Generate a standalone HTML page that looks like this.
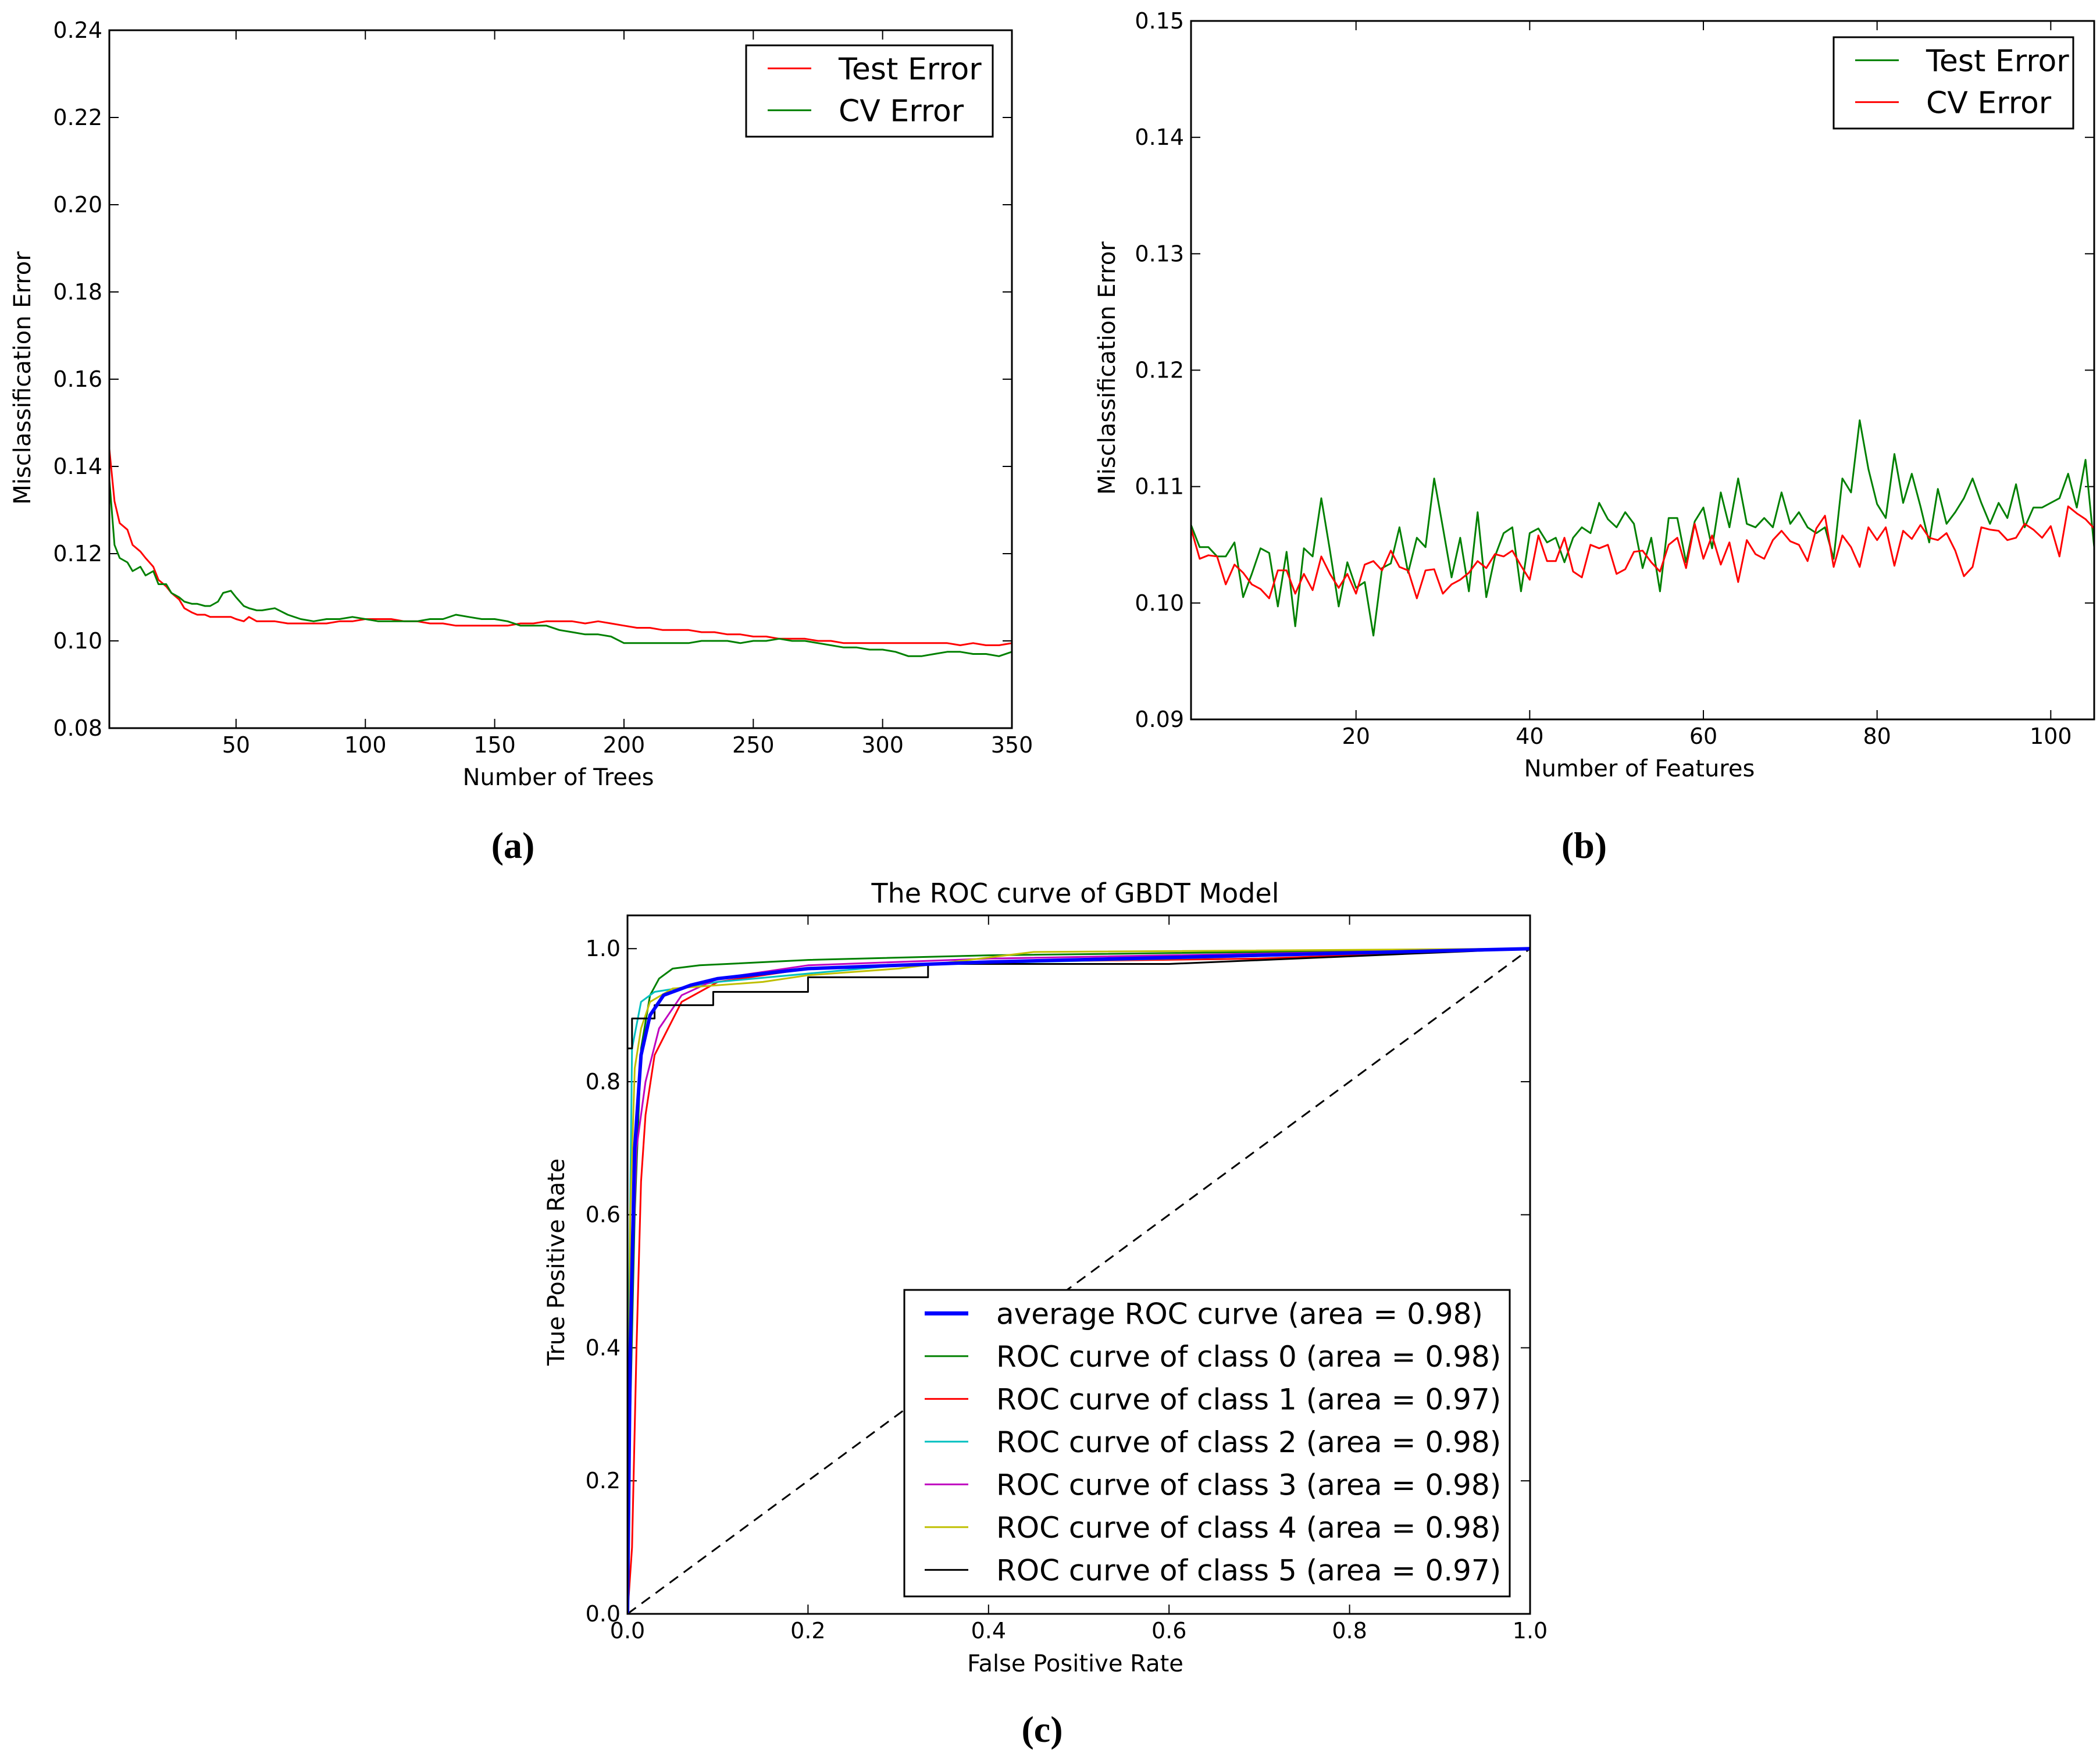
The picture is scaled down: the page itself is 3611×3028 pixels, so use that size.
<!DOCTYPE html>
<html><head><meta charset="utf-8"><style>
html,body{margin:0;padding:0;background:#fff}
svg{display:block}
text{font-family:"DejaVu Sans","Liberation Sans",sans-serif;fill:#000}
.lab{font-family:"Liberation Serif",serif;font-weight:bold}
</style></head><body>
<svg id="fig" width="3611" height="3028" viewBox="0 0 3611 3028" xmlns="http://www.w3.org/2000/svg"></svg>
<script>
// ---------- Chart (a) data ----------
const aTrees = [1,3,5,8,10,13,15,18,20,23,25,28,30,33,35,38,40,43,45,48,50,53,55,58,60,65,70,75,80,85,90,95,100,105,110,115,120,125,130,135,140,145,150,155,160,165,170,175,180,185,190,195,200,205,210,215,220,225,230,235,240,245,250,255,260,265,270,275,280,285,290,295,300,305,310,315,320,325,330,335,340,345,350];
const aTest = [0.144,0.132,0.127,0.1255,0.122,0.1205,0.119,0.117,0.114,0.1125,0.111,0.1095,0.1075,0.1065,0.106,0.106,0.1055,0.1055,0.1055,0.1055,0.105,0.1045,0.1055,0.1045,0.1045,0.1045,0.104,0.104,0.104,0.104,0.1045,0.1045,0.105,0.105,0.105,0.1045,0.1045,0.104,0.104,0.1035,0.1035,0.1035,0.1035,0.1035,0.104,0.104,0.1045,0.1045,0.1045,0.104,0.1045,0.104,0.1035,0.103,0.103,0.1025,0.1025,0.1025,0.102,0.102,0.1015,0.1015,0.101,0.101,0.1005,0.1005,0.1005,0.1,0.1,0.0995,0.0995,0.0995,0.0995,0.0995,0.0995,0.0995,0.0995,0.0995,0.099,0.0995,0.099,0.099,0.0995];
const aCV = [0.137,0.122,0.119,0.118,0.116,0.117,0.115,0.116,0.113,0.113,0.111,0.11,0.109,0.1085,0.1085,0.108,0.108,0.109,0.111,0.1115,0.11,0.108,0.1075,0.107,0.107,0.1075,0.106,0.105,0.1045,0.105,0.105,0.1055,0.105,0.1045,0.1045,0.1045,0.1045,0.105,0.105,0.106,0.1055,0.105,0.105,0.1045,0.1035,0.1035,0.1035,0.1025,0.102,0.1015,0.1015,0.101,0.0995,0.0995,0.0995,0.0995,0.0995,0.0995,0.1,0.1,0.1,0.0995,0.1,0.1,0.1005,0.1,0.1,0.0995,0.099,0.0985,0.0985,0.098,0.098,0.0975,0.0965,0.0965,0.097,0.0975,0.0975,0.097,0.097,0.0965,0.0975];
const aYTicks = [0.08,0.10,0.12,0.14,0.16,0.18,0.20,0.22,0.24];
const aXTicks = [50,100,150,200,250,300,350];

// ---------- Chart (b) data ----------
const bTest = [0.1067,0.1048,0.1048,0.1040,0.1040,0.1052,0.1005,0.1025,0.1047,0.1043,0.0997,0.1044,0.0980,0.1047,0.1040,0.1090,0.1045,0.0997,0.1035,0.1013,0.1018,0.0972,0.1030,0.1034,0.1065,0.1026,0.1056,0.1048,0.1107,0.1065,0.1022,0.1056,0.1010,0.1078,0.1005,0.1040,0.1060,0.1065,0.1010,0.1060,0.1064,0.1052,0.1056,0.1035,0.1056,0.1065,0.1060,0.1086,0.1072,0.1065,0.1078,0.1068,0.1030,0.1056,0.1010,0.1073,0.1073,0.1035,0.1070,0.1082,0.1047,0.1095,0.1065,0.1107,0.1068,0.1065,0.1073,0.1065,0.1095,0.1068,0.1078,0.1065,0.1060,0.1065,0.1038,0.1107,0.1095,0.1157,0.1115,0.1085,0.1073,0.1128,0.1086,0.1111,0.1083,0.1052,0.1098,0.1068,0.1078,0.1090,0.1107,0.1086,0.1068,0.1086,0.1073,0.1102,0.1065,0.1082,0.1082,0.1086,0.1090,0.1111,0.1082,0.1123,0.1048];
const bCV = [0.1064,0.1038,0.1041,0.1040,0.1016,0.1033,0.1026,0.1016,0.1012,0.1004,0.1028,0.1028,0.1008,0.1025,0.1011,0.1040,0.1025,0.1013,0.1025,0.1008,0.1033,0.1036,0.1028,0.1045,0.1031,0.1028,0.1004,0.1028,0.1029,0.1008,0.1016,0.1020,0.1026,0.1036,0.1030,0.1042,0.1040,0.1045,0.1032,0.1020,0.1058,0.1036,0.1036,0.1056,0.1027,0.1022,0.1050,0.1047,0.1050,0.1025,0.1029,0.1044,0.1045,0.1035,0.1027,0.1050,0.1056,0.1030,0.1068,0.1038,0.1058,0.1033,0.1052,0.1018,0.1054,0.1042,0.1038,0.1054,0.1062,0.1053,0.1050,0.1036,0.1064,0.1075,0.1031,0.1058,0.1048,0.1031,0.1065,0.1054,0.1065,0.1032,0.1062,0.1055,0.1067,0.1056,0.1054,0.1060,0.1045,0.1023,0.1031,0.1065,0.1063,0.1062,0.1054,0.1056,0.1068,0.1063,0.1056,0.1066,0.1040,0.1083,0.1077,0.1072,0.1064];
const bYTicks = [0.09,0.10,0.11,0.12,0.13,0.14,0.15];
const bXTicks = [20,40,60,80,100];

// ---------- Chart (c) data ----------
const cAvgX = [0,0.003,0.008,0.015,0.025,0.04,0.07,0.1,0.2,0.4,1];
const cAvgY = [0,0.4,0.7,0.84,0.9,0.93,0.945,0.955,0.97,0.98,1];
const c0X = [0,0.003,0.008,0.015,0.025,0.035,0.05,0.08,0.2,0.4,1];
const c0Y = [0,0.3,0.6,0.85,0.93,0.955,0.97,0.975,0.983,0.99,1];
const c1X = [0,0.005,0.01,0.015,0.02,0.03,0.045,0.06,0.1,0.2,0.4,0.7,1];
const c1Y = [0,0.1,0.4,0.65,0.75,0.84,0.88,0.92,0.95,0.97,0.98,0.985,1];
const c2X = [0,0.002,0.005,0.015,0.03,0.1,0.3,0.6,1];
const c2Y = [0,0.5,0.85,0.92,0.935,0.95,0.975,0.985,1];
const c3X = [0,0.005,0.01,0.02,0.035,0.06,0.1,0.2,0.4,1];
const c3Y = [0,0.5,0.7,0.8,0.88,0.93,0.955,0.975,0.985,1];
const c4X = [0,0.003,0.008,0.015,0.025,0.05,0.15,0.2,0.3,0.45,1];
const c4Y = [0,0.6,0.82,0.88,0.92,0.94,0.95,0.96,0.97,0.995,1];
const c5X = [0,0,0.005,0.005,0.03,0.03,0.095,0.095,0.2,0.2,0.333,0.333,0.6,1];
const c5Y = [0,0.85,0.85,0.895,0.895,0.915,0.915,0.935,0.935,0.957,0.957,0.977,0.977,1];
const cTicks = [0.0,0.2,0.4,0.6,0.8,1.0];

const NS = "http://www.w3.org/2000/svg";
const fig = document.getElementById('fig');
function mk(tag, attrs, parent, txt){
  const e = document.createElementNS(NS, tag);
  for (const k in attrs) e.setAttribute(k, attrs[k]);
  if (txt !== undefined) e.textContent = txt;
  (parent||fig).appendChild(e);
  return e;
}
function lin(d0,d1,r0,r1){ return v => r0 + (v-d0)/(d1-d0)*(r1-r0); }

function axes(name, L,R,T,B, xs, ys, xt, yt, xfmt, yfmt){
  const g = mk('g',{});
  
  
  const tl = 16;
  xt.forEach(v=>{
    const x = xs(v);
    mk('line',{x1:x,y1:B,x2:x,y2:B-tl,stroke:'#000','stroke-width':2},g);
    mk('line',{x1:x,y1:T,x2:x,y2:T+tl,stroke:'#000','stroke-width':2},g);
    const t = mk('text',{x:x,y:B+42,'font-size':38,'text-anchor':'middle'},g,xfmt(v));
    
    
  });
  yt.forEach(v=>{
    const y = ys(v);
    mk('line',{x1:L,y1:y,x2:L+tl,y2:y,stroke:'#000','stroke-width':2},g);
    mk('line',{x1:R,y1:y,x2:R-tl,y2:y,stroke:'#000','stroke-width':2},g);
    const t = mk('text',{x:L-12,y:y+13,'font-size':38,'text-anchor':'end'},g,yfmt(v));
    
    
  });
  return g;
}
function frame(name,L,R,T,B){
  const r = mk('rect',{x:L,y:T,width:R-L,height:B-T,fill:'none',stroke:'#000','stroke-width':3});
  
  
}
function series(name, xsArr, ysArr, xs, ys, color, w, clip){
  const pts = xsArr.map((v,i)=>xs(v).toFixed(1)+','+ys(ysArr[i]).toFixed(1)).join(' ');
  const p = mk('polyline',{points:pts,fill:'none',stroke:color,'stroke-width':w,'stroke-linejoin':'round','clip-path':clip});
  
  
}
function clipRect(id,L,R,T,B){
  const d = mk('defs',{}); const c = mk('clipPath',{id:id},d);
  mk('rect',{x:L,y:T,width:R-L,height:B-T},c);
  return 'url(#'+id+')';
}
function legend(name,x,y,w,h,entries,fs,dy,lineX0,lineX1,textX){
  const g = mk('g',{});
  
  
  mk('rect',{x:x,y:y,width:w,height:h,fill:'#fff',stroke:'#000','stroke-width':3},g);
  entries.forEach((e,i)=>{
    const cy = y+dy*0.55+ i*dy;
    const ln = mk('line',{x1:lineX0,y1:cy,x2:lineX1,y2:cy,stroke:e[1],'stroke-width':e[2]},g);
    
    
    const t = mk('text',{x:textX,y:cy+fs*0.36,'font-size':fs},g,e[0]);
    
    
  });
}
function label(name,txt,x,y,fs,rot,cls){
  const a = {x:x,y:y,'font-size':fs,'text-anchor':'middle'};
  if (rot) a.transform = 'rotate(-90 '+x+' '+y+')';
  if (cls) a['class'] = cls;
  const t = mk('text',a,fig,txt);
  
  
}

// ===== Chart a =====
(function(){
  const L=188,R=1740,T=52,B=1252;
  const xs = lin(1,350,L,R), ys = lin(0.08,0.24,B,T);
  const cp = clipRect('ca',L,R,T,B);
  axes('chart-a',L,R,T,B,xs,ys,aXTicks,aYTicks,v=>String(v),v=>v.toFixed(2));
  series('chart-a-test-error-line',aTrees,aTest,xs,ys,'#ff0000',3,cp);
  series('chart-a-cv-error-line',aTrees,aCV,xs,ys,'#008000',3,cp);
  frame('chart-a',L,R,T,B);
  legend('chart-a-legend',1283,78,424,157,[['Test Error','#ff0000',3],['CV Error','#008000',3]],52,72,1320,1395,1442);
  label('chart-a-x-axis-title','Number of Trees',960,1350,40);
  label('chart-a-y-axis-title','Misclassification Error',52,650,40,true);
  label('panel-label-a','(a)',882,1475,64,false,'lab');
})();

// ===== Chart b =====
(function(){
  const L=2048,R=3601,T=36,B=1237;
  const xs = lin(1,105,L,R), ys = lin(0.09,0.15,B,T);
  const cp = clipRect('cb',L,R,T,B);
  axes('chart-b',L,R,T,B,xs,ys,bXTicks,bYTicks,v=>String(v),v=>v.toFixed(2));
  const xi = bTest.map((_,i)=>i+1);
  series('chart-b-test-error-line',xi,bTest,xs,ys,'#008000',3,cp);
  series('chart-b-cv-error-line',xi,bCV,xs,ys,'#ff0000',3,cp);
  frame('chart-b',L,R,T,B);
  legend('chart-b-legend',3153,64,412,157,[['Test Error','#008000',3],['CV Error','#ff0000',3]],52,72,3190,3265,3312);
  label('chart-b-x-axis-title','Number of Features',2819,1335,40);
  label('chart-b-y-axis-title','Misclassification Error',1917,633,40,true);
  label('panel-label-b','(b)',2724,1475,64,false,'lab');
})();

// ===== Chart c =====
(function(){
  const L=1079,R=2631,T=1574,B=2775;
  const xs = lin(0,1,L,R), ys = lin(0,1.05,B,T);
  const cp = clipRect('cc',L,R,T,B);
  axes('chart-c',L,R,T,B,xs,ys,cTicks,cTicks,v=>v.toFixed(1),v=>v.toFixed(1));
  const diag = mk('line',{x1:xs(0),y1:ys(0),x2:xs(1),y2:ys(1),stroke:'#000','stroke-width':3,'stroke-dasharray':'18,12'});
  
  
  series('roc-class-0',c0X,c0Y,xs,ys,'#008000',3,cp);
  series('roc-class-1',c1X,c1Y,xs,ys,'#ff0000',3,cp);
  series('roc-class-2',c2X,c2Y,xs,ys,'#00bfbf',3,cp);
  series('roc-class-3',c3X,c3Y,xs,ys,'#bf00bf',3,cp);
  series('roc-class-4',c4X,c4Y,xs,ys,'#bfbf00',3,cp);
  series('roc-class-5',c5X,c5Y,xs,ys,'#000000',3,cp);
  series('roc-average',cAvgX,cAvgY,xs,ys,'#0000ff',6,cp);
  frame('chart-c',L,R,T,B);
  legend('chart-c-legend',1555,2218,1041,527,[
    ['average ROC curve (area = 0.98)','#0000ff',7],
    ['ROC curve of class 0 (area = 0.98)','#008000',3],
    ['ROC curve of class 1 (area = 0.97)','#ff0000',3],
    ['ROC curve of class 2 (area = 0.98)','#00bfbf',3],
    ['ROC curve of class 3 (area = 0.98)','#bf00bf',3],
    ['ROC curve of class 4 (area = 0.98)','#bfbf00',3],
    ['ROC curve of class 5 (area = 0.97)','#000000',3]
  ],50,73.5,1590,1665,1713);
  label('chart-c-title','The ROC curve of GBDT Model',1849,1552,46);
  label('chart-c-x-axis-title','False Positive Rate',1849,2874,40);
  label('chart-c-y-axis-title','True Positive Rate',970,2170,40,true);
  label('panel-label-c','(c)',1792,2995,64,false,'lab');
})();
</script>
</body></html>
